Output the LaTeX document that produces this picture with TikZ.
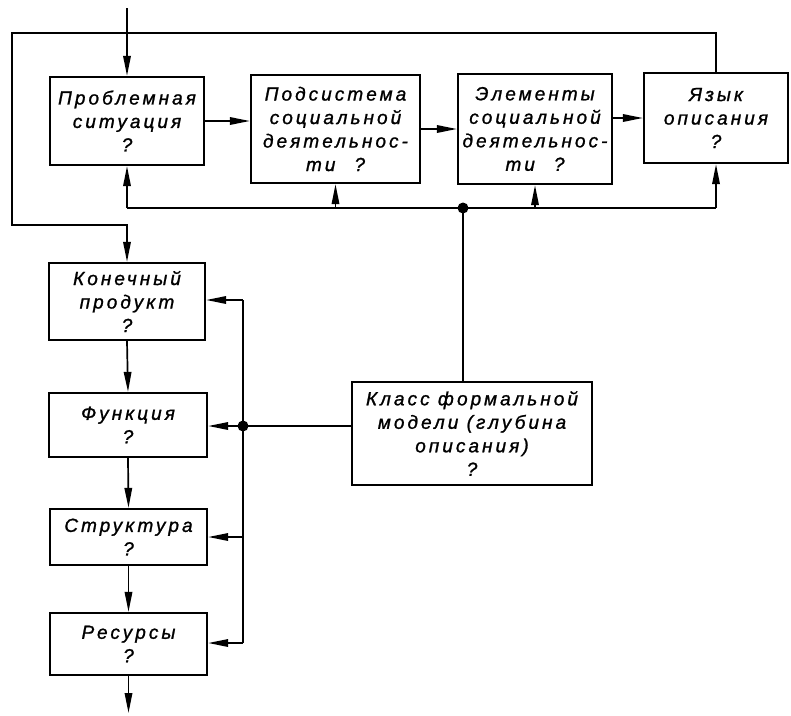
\documentclass[tikz,border=0pt]{standalone}
\usepackage{fontspec}
\setmainfont{Liberation Sans}
\newfontfamily\drawfont[ItalicFont={* Italic},LetterSpace=16,FakeBold=1.2]{Liberation Sans}
\usetikzlibrary{arrows.meta}
\begin{document}
\begin{tikzpicture}[x=1pt,y=-1pt,
  block/.style={draw,line width=2.3pt,rectangle,inner sep=0pt,align=center,
    font=\drawfont\itshape\fontsize{19}{23.5}\selectfont},
  link/.style={line width=1.7pt},
  arr/.style={link,-{Triangle[length=20pt,width=7.5pt]}},
  joint/.style={fill,circle,inner sep=0pt,minimum size=11pt}]
\useasboundingbox (0,0) rectangle (791,715);

% upper row
\node[block,minimum width=154,minimum height=88] (problem) at (127,121)
  {Проблемная\\ситуация\\?};
\node[block,minimum width=169,minimum height=108] (subsys) at (335.5,129)
  {Подсистема\\социальной\\деятельнос-\\ти\quad ?};
\node[block,minimum width=154,minimum height=110] (elems) at (535,129)
  {Элементы\\социальной\\деятельнос-\\ти\quad ?};
\node[block,minimum width=144,minimum height=90] (lang) at (716,118)
  {Язык\\описания\\?};

% left column
\node[block,minimum width=156,minimum height=77] (product) at (127,301.5)
  {Конечный\\продукт\\?};
\node[block,minimum width=158,minimum height=64] (func) at (128,425)
  {Функция\\?};
\node[block,minimum width=157,minimum height=56] (struct) at (128.5,537)
  {Структура\\?};
\node[block,minimum width=157,minimum height=62] (res) at (128.5,644)
  {Ресурсы\\?};

% formal model class
\node[block,minimum width=240,minimum height=103] (cls) at (472,433.5)
  {Класс формальной\\модели (глубина\\описания)\\?};

% entry and exit
\coordinate (entry) at (127,8);
\coordinate (exit) at (128.5,713);
\draw[arr] (entry) -- (problem.north);
\draw[arr] (res.south) -- (exit);

% chain along the upper row
\draw[arr] (problem.east) -- (subsys.west |- problem.east);
\draw[arr] (subsys.east |- elems.west) -- (elems.west);
\draw[arr] (elems.east |- lang.west) -- (lang.west);

% feedback loop from the description language to the end product
\coordinate (fbA) at (12,33);
\coordinate (fbB) at (12,225);
\draw[arr] (lang.north) |- (fbA) -- (fbB) -| (product.north);

% lower bus of the upper row
\coordinate (busL) at (127,208);
\coordinate (busR) at (716,208);
\coordinate (jtop) at (463,208);
\draw[link] (busL) -- (busR);
\draw[arr] (busL) -- (problem.south);
\draw[arr] (busR) -- (lang.south);
\draw[arr] (subsys.south |- busL) -- (subsys.south);
\draw[arr] (elems.south |- busL) -- (elems.south);
\draw[link] (jtop) -- (jtop |- cls.north);
\node[joint] (jt) at (jtop) {};

% bus along the left column
\coordinate (jleft) at (243,426);
\coordinate (busT) at (243,300);
\coordinate (busB) at (243,643);
\draw[link] (cls.west |- jleft) -- (jleft);
\draw[arr] (jleft) -- (func.east |- jleft);
\draw[link] (busT) -- (busB);
\draw[arr] (busT) -- (product.east |- busT);
\draw[arr] (busT |- struct.east) -- (struct.east);
\draw[arr] (busB) -- (res.east |- busB);
\node[joint] (jl) at (jleft) {};

% left column chain
\draw[arr] (product.south) -- (func.north);
\draw[arr] (func.south) -- (struct.north);
\draw[arr] (struct.south) -- (res.north);
\end{tikzpicture}
\end{document}
